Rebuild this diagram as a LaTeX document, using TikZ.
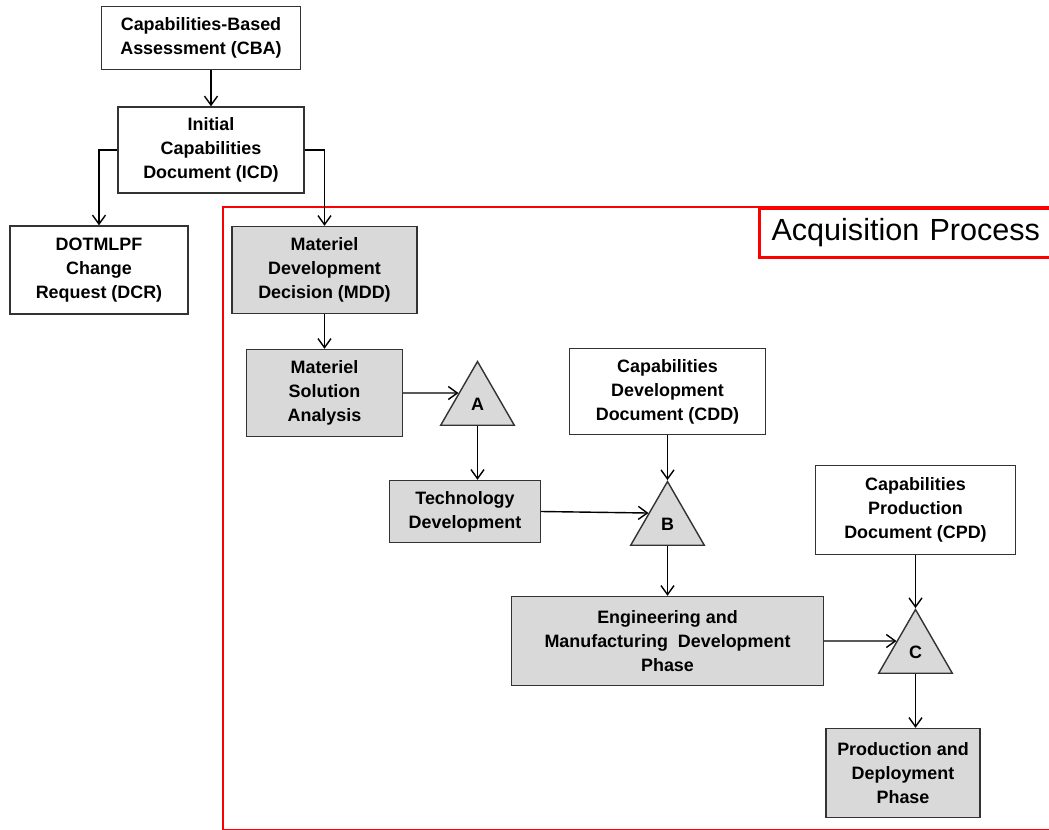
\documentclass[tikz,border=0pt]{standalone}
\usepackage{fontspec}
\setmainfont{Liberation Sans}
\usetikzlibrary{shapes.geometric,arrows.meta}

\tikzstyle{block} = [rectangle, draw=black!80, thick, fill=white, text centered, align=center, font=\bfseries\fontsize{10.2}{13.6}\selectfont]
\tikzstyle{phase} = [block, fill=black!15]
\tikzstyle{milestone} = [regular polygon, regular polygon sides=3, minimum size=1.7cm, inner sep=0pt, draw=black!80, thick, fill=black!15, font=\bfseries\fontsize{10.2}{13.6}\selectfont]
\tikzstyle{arrow} = [thick, -{Straight Barb[length=1.8mm, width=2.6mm]}]

\begin{document}
\begin{tikzpicture}[node distance=2.4cm]

    \useasboundingbox (-4.02,0.76) rectangle (16.96,-15.84);
    \clip (-4.02,0.76) rectangle (16.96,-15.84);

    % Acquisition frame
    \draw [red, line width=1.7pt] (0.44,-3.38) rectangle (17.5,-15.85);
    \node (acq) [draw=red, line width=1.7pt, fill=white, anchor=north west, minimum height=0.98cm, text width=5.7cm, inner xsep=0.24cm, align=left, font=\fontsize{17.4}{20}\selectfont] at (11.14,-3.38) {Acquisition Process};

    % Draw nodes
    \node (cba) [block, minimum width=3.98cm, minimum height=1.26cm] {Capabilities-Based\\Assessment (CBA)};
    \node (icd) [block, minimum width=3.72cm, minimum height=1.72cm, below of=cba, xshift=0.2cm, yshift=0.16cm] {Initial\\Capabilities\\Document (ICD)};
    \node (dcr) [block, minimum width=3.56cm, minimum height=1.76cm, below of=icd, xshift=-2.24cm] {DOTMLPF\\Change\\Request (DCR)};
    \node (mdd) [phase, minimum width=3.7cm, minimum height=1.74cm, below of=icd, xshift=2.27cm] {Materiel\\Development\\Decision (MDD)};
    \node (msa) [phase, minimum width=3.12cm, minimum height=1.74cm, below of=mdd, yshift=-0.06cm] {Materiel\\Solution\\Analysis};
    \node (triA) [milestone, right of=msa, xshift=0.66cm, yshift=-0.22cm] {A};
    \node (td) [phase, minimum width=3.02cm, minimum height=1.24cm, below of=triA, xshift=-0.25cm, yshift=0.25cm] {Technology\\Development};
    \node (cdd) [block, minimum width=3.92cm, minimum height=1.72cm, right of=triA, xshift=1.4cm, yshift=0.25cm] {Capabilities\\Development\\Document (CDD)};
    \node (triB) [milestone, below of=cdd, yshift=-0.25cm] {B};
    \node (emd) [phase, minimum width=6.24cm, minimum height=1.78cm, below of=triB, yshift=0.06cm] {Engineering and\\Manufacturing\ \ Development\\Phase};
    \node (cpd) [block, minimum width=4cm, minimum height=1.78cm, right of=triB, xshift=2.56cm, yshift=0.28cm] {Capabilities\\Production\\Document (CPD)};
    \node (triC) [milestone, below of=cpd, yshift=-0.44cm] {C};
    \node (pd) [phase, minimum width=3.08cm, minimum height=1.78cm, below of=triC, xshift=-0.25cm, yshift=-0.02cm] {Production and\\Deployment\\Phase};

    % Draw connections
    \draw [arrow] (icd.north |- cba.south) -- (icd.north);
    \draw [arrow] (icd.west) -| (dcr.north);
    \draw [arrow] (icd.east) -| (mdd.north);
    \draw [arrow] (mdd) -- (msa);
    \draw [arrow] (msa.east) -- (triA.side 1);
    \draw [arrow] (triA.side 2) -- (triA.side 2 |- td.north);
    \draw [arrow] (td.east) -- (triB.side 1);
    \draw [arrow] (cdd) -- (triB.corner 1);
    \draw [arrow] (triB.side 2) -- (triB.side 2 |- emd.north);
    \draw [arrow] (emd.east) -- (triC.side 1);
    \draw [arrow] (cpd) -- (triC.corner 1);
    \draw [arrow] (triC.side 2) -- (triC.side 2 |- pd.north);

\end{tikzpicture}
\end{document}
